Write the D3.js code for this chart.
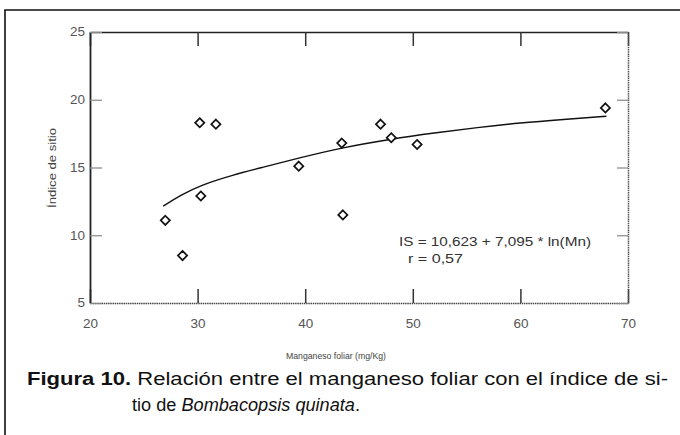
<!DOCTYPE html>
<html>
<head>
<meta charset="utf-8">
<script src="https://cdn.jsdelivr.net/npm/d3@7"></script>
<style>
  html, body { margin: 0; padding: 0; background: #fff; }
  svg { display: block; font-family: "Liberation Sans", Arial, sans-serif; }
</style>
</head>
<body>
<svg id="chart" width="680" height="435"></svg>
<script>
// MARK: Data.

// Manganeso foliar (mg/Kg) and índice de sitio for each plot
const mnValues  = [27.0, 28.6, 30.2, 30.3, 31.7, 39.4, 43.4, 43.5, 47.0, 48.0, 50.4, 67.9]
const siteIndex = [11.1,  8.5, 18.3, 12.9, 18.2, 15.1, 16.8, 11.5, 18.2, 17.2, 16.7, 19.4]

// Fitted curve as drawn in the figure
const fitMn = [26.8, 28.4, 30.3, 33.3, 36.0, 39.4, 43.3, 48.0, 52.0, 56.0, 60.0, 64.0, 68.0]
const fitIS = [12.15, 12.95, 13.7, 14.45, 15.0, 15.7, 16.45, 17.1, 17.55, 17.95, 18.3, 18.55, 18.78]

const xTicks = [20, 30, 40, 50, 60, 70]
const yTicks = [5, 10, 15, 20, 25]

const equationLines = ['IS = 10,623 + 7,095 * ln(Mn)', 'r = 0,57']

// MARK: Layout.

const PLOT = { left: 90, right: 628, top: 32, bottom: 303 }

const svg = d3.select('#chart')

// Outer figure frame (only top and left edges show in the crop)
svg.append('path')
  .attr('d'           , 'M5,435 L5,10 L680,10')
  .attr('fill'        , 'none')
  .attr('stroke'      , '#111')
  .attr('stroke-width', 1.6)

const x = d3.scaleLinear().domain([20, 70]).range([PLOT.left, PLOT.right])
const y = d3.scaleLinear().domain([5, 25]).range([PLOT.bottom, PLOT.top])

// Axes: ticks point inwards on all four sides, labels only bottom and left
const gBottom = svg.append('g')
  .attr('transform', `translate(0,${PLOT.bottom})`)
  .call(d3.axisBottom(x).tickValues(xTicks).tickSizeInner(-14).tickSizeOuter(0).tickPadding(16))
const gTop = svg.append('g')
  .attr('transform', `translate(0,${PLOT.top})`)
  .call(d3.axisTop(x).tickValues(xTicks).tickSizeInner(-14).tickSizeOuter(0).tickFormat(''))
const gLeft = svg.append('g')
  .attr('transform', `translate(${PLOT.left},0)`)
  .call(d3.axisLeft(y).tickValues(yTicks).tickSizeInner(-12).tickSizeOuter(0).tickPadding(5))
const gRight = svg.append('g')
  .attr('transform', `translate(${PLOT.right},0)`)
  .call(d3.axisRight(y).tickValues(yTicks).tickSizeInner(-11).tickSizeOuter(0).tickFormat(''))

gLeft.select('.domain').attr('stroke', '#222').attr('stroke-width', 1.8)
gTop.select('.domain').attr('stroke', '#222').attr('stroke-width', 1.6)
// bottom and right edges look dotted in the scan
gBottom.select('.domain').attr('stroke', '#444').attr('stroke-width', 1.7).attr('stroke-dasharray', '1.5,0.7')
gRight.select('.domain').attr('stroke', '#555').attr('stroke-width', 1.5).attr('stroke-dasharray', '1.5,0.7')

gBottom.selectAll('.tick line').attr('stroke', '#333').attr('stroke-width', 1.5)
gTop.selectAll('.tick line').attr('stroke', '#333').attr('stroke-width', 1.5)
gLeft.selectAll('.tick line').attr('stroke', '#888').attr('stroke-width', 1.2)
gRight.selectAll('.tick line').attr('stroke', '#888').attr('stroke-width', 1.2)

svg.selectAll('.tick text')
  .attr('font-family', '"Liberation Sans", Arial, sans-serif')
  .attr('font-size'  , 12)
  .attr('fill'       , '#555')
  .attr('textLength' , (d) => String(d).length * 7.5)
  .attr('lengthAdjust', 'spacingAndGlyphs')

// Axis titles
svg.append('text')
  .attr('x'           , 336)
  .attr('y'           , 359)
  .attr('text-anchor' , 'middle')
  .attr('font-size'   , 9)
  .attr('fill'        , '#444')
  .attr('textLength'  , 100)
  .attr('lengthAdjust', 'spacingAndGlyphs')
  .text('Manganeso foliar (mg/Kg)')

svg.append('text')
  .attr('transform'   , 'translate(56,168) rotate(-90)')
  .attr('text-anchor' , 'middle')
  .attr('font-size'   , 10)
  .attr('fill'        , '#444')
  .attr('textLength'  , 80)
  .attr('lengthAdjust', 'spacingAndGlyphs')
  .text('Índice de sitio')

// Fitted curve
const line = d3.line()
  .x((d) => x(d[0]))
  .y((d) => y(d[1]))
  .curve(d3.curveBasis)

svg.append('path')
  .datum(d3.zip(fitMn, fitIS))
  .attr('d'           , line)
  .attr('fill'        , 'none')
  .attr('stroke'      , '#111')
  .attr('stroke-width', 1.4)

// Observations as open diamonds
const diamond = 'M0,-4.6 L4.6,0 L0,4.6 L-4.6,0 Z'
svg.append('g').selectAll('path')
  .data(d3.zip(mnValues, siteIndex))
  .enter().append('path')
    .attr('transform'   , (d) => `translate(${x(d[0])},${y(d[1])})`)
    .attr('d'           , diamond)
    .attr('fill'        , '#fff')
    .attr('stroke'      , '#111')
    .attr('stroke-width', 1.7)

// Regression equation
svg.append('text')
  .attr('x'           , 399)
  .attr('y'           , 246)
  .attr('font-size'   , 12)
  .attr('fill'        , '#333')
  .attr('textLength'  , 192)
  .attr('lengthAdjust', 'spacingAndGlyphs')
  .text(equationLines[0])
svg.append('text')
  .attr('x'           , 408)
  .attr('y'           , 263)
  .attr('font-size'   , 12)
  .attr('fill'        , '#333')
  .attr('textLength'  , 55)
  .attr('lengthAdjust', 'spacingAndGlyphs')
  .text(equationLines[1])

// Caption below the chart
const cap1 = svg.append('text')
  .attr('x'           , 27)
  .attr('y'           , 385)
  .attr('font-size'   , 17.5)
  .attr('fill'        , '#111')
  .attr('textLength'  , 641)
  .attr('lengthAdjust', 'spacingAndGlyphs')
cap1.append('tspan').attr('font-weight', 'bold').text('Figura 10.')
cap1.append('tspan').text(' Relación entre el manganeso foliar con el índice de si-')

const cap2 = svg.append('text')
  .attr('x'           , 132)
  .attr('y'           , 411)
  .attr('font-size'   , 17.5)
  .attr('fill'        , '#111')
  .attr('textLength'  , 228)
  .attr('lengthAdjust', 'spacingAndGlyphs')
cap2.append('tspan').text('tio de ')
cap2.append('tspan').attr('font-style', 'italic').text('Bombacopsis quinata')
cap2.append('tspan').text('.')
</script>
</body>
</html>
